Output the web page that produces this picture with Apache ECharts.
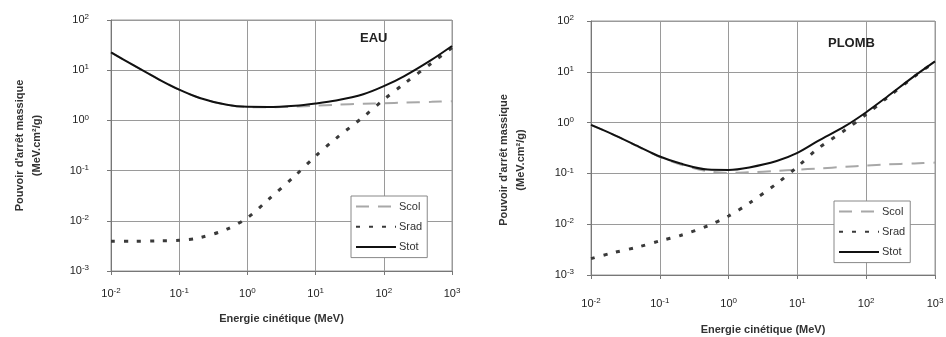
<!DOCTYPE html>
<html>
<head>
<meta charset="utf-8">
<script src="https://cdn.jsdelivr.net/npm/echarts@6/dist/echarts.min.js"></script>
<style>
  html, body { margin: 0; padding: 0; background: #fff; }
  #main { width: 946px; height: 337px; }
</style>
</head>
<body>
<div id="main"></div>
<script>
// énergie cinétique (MeV), commune aux deux graphes
const energie = [0.01, 0.02, 0.05, 0.1, 0.2, 0.5, 1, 2, 5, 10, 20, 50, 100, 200, 500, 1000];

// EAU (MeV.cm²/g)
const eauScol = [22.6, 13.2, 6.6, 4.1, 2.79, 2.03, 1.85, 1.82, 1.88, 1.97, 2.05, 2.14, 2.2, 2.26, 2.34, 2.42];
const eauSrad = [0.0039, 0.0039, 0.004, 0.0041, 0.0046, 0.0068, 0.0115, 0.026, 0.079, 0.195, 0.44, 1.17, 2.6, 5.4, 13.8, 28];
const eauStot = [22.6, 13.2, 6.6, 4.1, 2.8, 2.04, 1.86, 1.85, 1.96, 2.17, 2.49, 3.31, 4.8, 7.66, 16.1, 30.4];

// PLOMB (MeV.cm²/g)
const plombScol = [0.898, 0.6, 0.33, 0.21, 0.15, 0.11, 0.102, 0.105, 0.112, 0.118, 0.125, 0.135, 0.143, 0.15, 0.157, 0.163];
const plombSrad = [0.0021, 0.0027, 0.0036, 0.0047, 0.006, 0.0093, 0.0145, 0.026, 0.063, 0.135, 0.31, 0.72, 1.45, 3.05, 8.05, 15.8];
const plombStot = [0.9, 0.6, 0.334, 0.215, 0.156, 0.119, 0.117, 0.131, 0.175, 0.253, 0.435, 0.86, 1.6, 3.2, 8.2, 16];

const noms = ['Scol', 'Srad', 'Stot'];
const titres = ['EAU', 'PLOMB'];

const police = 'Liberation Sans, Arial, sans-serif';

function paires(y) {
  return energie.map((e, i) => [e, y[i]]);
}

// étiquette 10^n
function puissance(v) {
  return '10{e|' + Math.round(Math.log10(v)) + '}';
}

const richLabel = {
  e: { fontSize: 8, fontFamily: police, color: '#222', padding: [0, 0, 6, 0] }
};

function axeX(idx, gap, marge) {
  return {
    type: 'log',
    logBase: 10,
    gridIndex: idx,
    min: 0.01,
    max: 1000,
    axisLine: { show: true, lineStyle: { color: '#777' } },
    axisTick: { show: true, length: 4, lineStyle: { color: '#777' } },
    splitLine: { show: true, lineStyle: { color: '#9a9a9a', width: 1 } },
    axisLabel: { formatter: puissance, margin: marge, fontSize: 11, color: '#222', fontFamily: police, rich: richLabel },
    name: 'Energie cinétique (MeV)',
    nameLocation: 'middle',
    nameGap: gap,
    nameTextStyle: { fontSize: 11, fontWeight: 'bold', color: '#333', fontFamily: police }
  };
}

function axeY(idx, gap, marge, decal) {
  return {
    type: 'log',
    logBase: 10,
    gridIndex: idx,
    min: 0.001,
    max: 100,
    axisLine: { show: true, lineStyle: { color: '#777' } },
    axisTick: { show: true, length: 4, lineStyle: { color: '#777' } },
    splitLine: { show: true, lineStyle: { color: '#9a9a9a', width: 1 } },
    axisLabel: { formatter: puissance, margin: marge, fontSize: 11, color: '#222', fontFamily: police, rich: richLabel },
    name: "Pouvoir d'arrêt massique\n(MeV.cm²/g)",
    nameLocation: 'middle',
    nameGap: gap,
    nameTextStyle: { fontSize: 11, fontWeight: 'bold', color: '#333', fontFamily: police, lineHeight: 17, padding: [0, decal, 0, 0] }
  };
}

function courbes(idx, scol, srad, stot) {
  const base = { type: 'line', xAxisIndex: idx, yAxisIndex: idx, symbol: 'none', showSymbol: false, smooth: 0.3, animation: false };
  return [
    Object.assign({}, base, { name: 'Scol', data: paires(scol), z: 2, itemStyle: { color: '#a8a8a8' }, lineStyle: { color: '#a8a8a8', width: 2, type: [13, 9] } }),
    Object.assign({}, base, { name: 'Srad', data: paires(srad), z: 3, itemStyle: { color: '#3a3a3a' }, lineStyle: { color: '#3a3a3a', width: 3, type: [4, 9] } }),
    Object.assign({}, base, { name: 'Stot', data: paires(stot), z: 4, itemStyle: { color: '#111' }, lineStyle: { color: '#111', width: 2 } })
  ];
}

function legende(x, y) {
  return {
    data: noms,
    orient: 'vertical',
    left: x,
    top: y,
    padding: [5, 5, 5, 4],
    itemWidth: 40,
    itemHeight: 14,
    itemGap: 9,
    backgroundColor: '#fff',
    borderColor: '#888',
    borderWidth: 1,
    borderRadius: 0,
    // pas de symbole, seulement le trait
    itemStyle: { opacity: 0, borderWidth: 0 },
    textStyle: { fontSize: 11, color: '#333', fontFamily: police, padding: [0, 0, 0, -2] }
  };
}

const option = {
  animation: false,
  title: [
    { text: titres[0], left: 360, top: 32, padding: 0, textStyle: { fontSize: 13, fontWeight: 'bold', color: '#222', fontFamily: police } },
    { text: titres[1], left: 828, top: 37, padding: 0, textStyle: { fontSize: 13, fontWeight: 'bold', color: '#222', fontFamily: police } }
  ],
  grid: [
    { left: 111, top: 20, width: 341, height: 251, show: true, borderColor: '#9a9a9a', borderWidth: 1, backgroundColor: 'transparent', outerBoundsMode: 'none', containLabel: false },
    { left: 591, top: 21, width: 344, height: 254, show: true, borderColor: '#9a9a9a', borderWidth: 1, backgroundColor: 'transparent', outerBoundsMode: 'none', containLabel: false }
  ],
  legend: [legende(351, 196), legende(834, 201)],
  xAxis: [axeX(0, 42, 16), axeX(1, 49, 22)],
  yAxis: [axeY(0, 66, 22, 0), axeY(1, 62, 17, 24)],
  series: courbes(0, eauScol, eauSrad, eauStot).concat(courbes(1, plombScol, plombSrad, plombStot))
};

const chart = echarts.init(document.getElementById('main'));
chart.setOption(option);
</script>
</body>
</html>
